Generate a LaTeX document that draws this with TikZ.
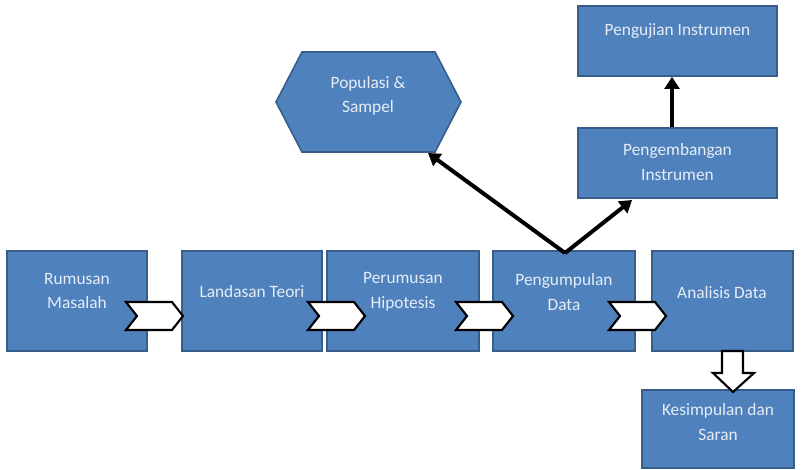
\documentclass[tikz,border=0pt]{standalone}
\usepackage{fontspec}
\setmainfont{Carlito}
\usetikzlibrary{arrows.meta,calc}
\definecolor{boxfill}{HTML}{4F81BD}
\definecolor{boxline}{HTML}{385D8A}
\definecolor{boxtext}{HTML}{E6EDF6}
\def\u{0.75pt}
\tikzset{
  box/.style={draw=boxline, fill=boxfill, line width=1.2pt, inner sep=0pt},
  txt/.style={text=boxtext, align=center, font=\fontsize{13}{18.5}\selectfont, inner sep=0pt},
  chev/.style={draw=black, fill=white, line width=1.6pt, line join=miter},
  blk/.style={draw=black, line width=3pt, -{Triangle[length=9pt,width=11pt]}},
  blockarrow/.style={draw=black, fill=white, line width=1.6pt, line join=miter}
}
\newcommand\chevshape[1]{%
  \draw[chev] (#1,302) -- ++(46,0) -- ++(11,14) -- ++(-11,14) -- ++(-46,0) -- ++(11,-14) -- cycle;}
\begin{document}
\begin{tikzpicture}[x=0.75pt,y=-0.75pt]
\useasboundingbox (0,0) rectangle (802,469);
% boxes
\node[box, minimum width=140*\u, minimum height=100*\u] (rm) at (77,301) {};
\node[box, minimum width=140*\u, minimum height=100*\u] (lt) at (252,301) {};
\node[box, minimum width=152*\u, minimum height=100*\u] (ph) at (403,301) {};
\node[box, minimum width=142*\u, minimum height=100*\u] (pd) at (564,301) {};
\node[box, minimum width=141*\u, minimum height=100*\u] (an) at (722.5,301) {};
\node[box, minimum width=152*\u, minimum height=78*\u] (ks) at (718,429) {};
\node[box, minimum width=199*\u, minimum height=70*\u] (pu) at (677.5,41) {};
\node[box, minimum width=199*\u, minimum height=70*\u] (pg) at (677.5,163) {};
% hexagon
\draw[box] (276,102) -- (302,52) -- (435,52) -- (461,102) -- (435,152) -- (302,152) -- cycle;
\coordinate (hx) at (428,153);
% texts
\node[txt] (trm) at (77,291) {Rumusan\\Masalah};
\node[txt] (tlt) at (252,292) {Landasan Teori};
\node[txt] (tph) at (403,292) {Perumusan\\Hipotesis};
\node[txt] (tpd) at (564,292) {Pengumpulan\\Data};
\node[txt] (tan) at (722,293) {Analisis Data};
\node[txt] (tks) at (718,422) {Kesimpulan dan\\Saran};
\node[txt] (tpu) at (677.5,31) {Pengujian Instrumen};
\node[txt] (tpg) at (677.5,162) {Pengembangan\\Instrumen};
\node[txt] (thx) at (368,96) {Populasi \&\\Sampel};
% chevrons
\chevshape{126}
\chevshape{308}
\chevshape{456}
\chevshape{609}
% down block arrow
\coordinate (da) at (an.south -| 733,0);
\draw[blockarrow] (722,351) -- (722,373) -- (713,373) -- (733,392) -- (754,373) -- (743,373) -- (743,351) -- cycle;
% black arrows
\coordinate (pdtop) at (565,253);
\coordinate (pgend) at (632,200);
\draw[blk] (pdtop) -- (hx);
\draw[blk] (pdtop) -- (pgend);
\draw[blk] (pg.north -| 672,0) -- (pu.south -| 672,0);
\end{tikzpicture}
\end{document}
